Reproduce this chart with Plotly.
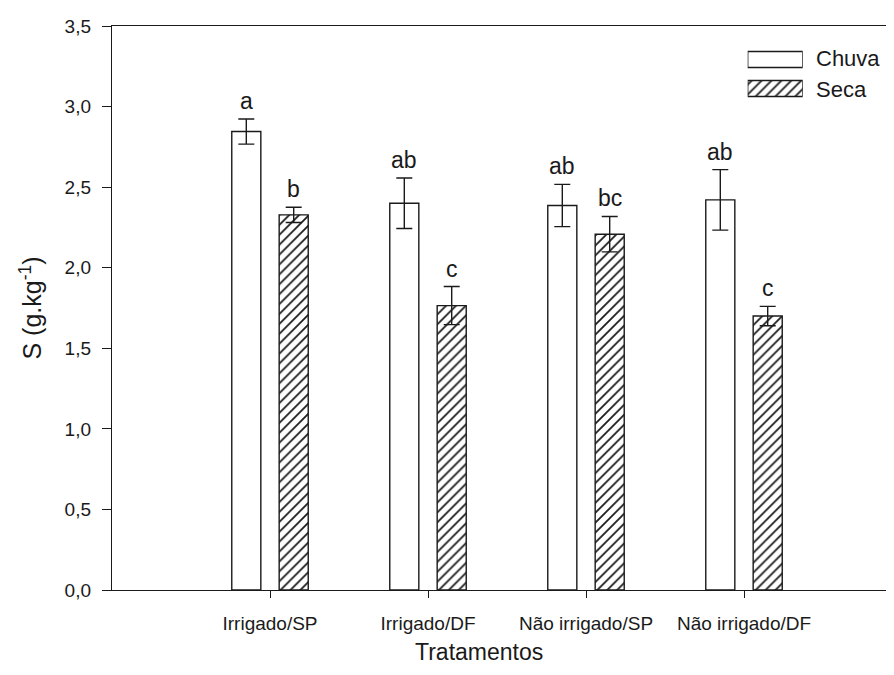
import plotly.graph_objects as go

categories = ["Irrigado/SP", "Irrigado/DF", "Não irrigado/SP", "Não irrigado/DF"]
chuva = [2.845, 2.40, 2.386, 2.421]
chuva_err = [0.078, 0.157, 0.131, 0.188]
seca = [2.328, 1.765, 2.208, 1.70]
seca_err = [0.047, 0.118, 0.11, 0.06]
chuva_letters = ["a", "ab", "ab", "ab"]
seca_letters = ["b", "c", "bc", "c"]
series_names = ["Chuva", "Seca"]

INK = "#1a1a1a"
FONT = "Liberation Sans, Arial, sans-serif"
# page offset of 8px (body margin) compensated
OFF = 8
W, H = 878, 659
L, R, T = 104, 0, 18
PH = 564
B = H - T - PH
PW = W - L - R

def px_x(p):
    return (p - OFF - L) / PW
def px_y(p):
    return (OFF + T + PH - p) / PH

hatch = dict(shape="/", fgcolor=INK, bgcolor="white", size=7, solidity=0.25, fillmode="replace")

fig = go.Figure()
fig.add_trace(go.Bar(
    x=categories, y=chuva, name=series_names[0],
    marker=dict(color="white", line=dict(color=INK, width=1.4)),
    error_y=dict(type="data", array=chuva_err, color=INK, thickness=1.4, width=8),
    showlegend=False,
))
fig.add_trace(go.Bar(
    x=categories, y=seca, name=series_names[1],
    marker=dict(color="white", pattern=hatch, line=dict(color=INK, width=1.4)),
    error_y=dict(type="data", array=seca_err, color=INK, thickness=1.4, width=8),
    showlegend=False,
))

# letters of significance
off = 0.15
for i in range(len(categories)):
    fig.add_annotation(x=i - off, y=chuva[i] + chuva_err[i], text=chuva_letters[i],
                       showarrow=False, yanchor="bottom", yshift=3,
                       font=dict(size=23, color=INK, family=FONT))
    fig.add_annotation(x=i + off, y=seca[i] + seca_err[i], text=seca_letters[i],
                       showarrow=False, yanchor="bottom", yshift=3,
                       font=dict(size=23, color=INK, family=FONT))

# legend swatches on an inset axis
fig.add_trace(go.Bar(
    x=[1], y=[1], base=[0], orientation="h", width=0.55,
    marker=dict(color="white", line=dict(color=INK, width=1.4)),
    xaxis="x2", yaxis="y2", showlegend=False, hoverinfo="skip",
))
fig.add_trace(go.Bar(
    x=[1], y=[0], base=[0], orientation="h", width=0.55,
    marker=dict(color="white", pattern=hatch, line=dict(color=INK, width=1.4)),
    xaxis="x2", yaxis="y2", showlegend=False, hoverinfo="skip",
))
fig.add_annotation(xref="paper", yref="paper", x=px_x(814), y=px_y(58.7), text=series_names[0],
                   showarrow=False, xanchor="left", yanchor="middle",
                   font=dict(size=22, color=INK, family=FONT))
fig.add_annotation(xref="paper", yref="paper", x=px_x(814), y=px_y(89.2), text=series_names[1],
                   showarrow=False, xanchor="left", yanchor="middle",
                   font=dict(size=22, color=INK, family=FONT))

# x axis title
fig.add_annotation(xref="paper", yref="paper", x=px_x(479), y=px_y(652), text="Tratamentos",
                   showarrow=False, xanchor="center", yanchor="middle",
                   font=dict(size=23, color=INK, family=FONT))

fig.update_layout(
    width=W, height=H,
    margin=dict(l=L, r=R, t=T, b=B, autoexpand=False),
    paper_bgcolor="white", plot_bgcolor="white",
    barmode="group", bargap=0.4, bargroupgap=0.387,
    separators=",.",
    font=dict(family=FONT, color=INK),
    xaxis=dict(
        type="category", range=[-1, -1 + PW / 158],
        showline=True, linecolor=INK, linewidth=1.4, mirror=True,
        ticks="outside", ticklen=7, tickcolor=INK, tickwidth=1.4,
        ticklabelstandoff=9,
        showgrid=False, zeroline=False,
        tickfont=dict(size=19, color=INK, family=FONT),
    ),
    yaxis=dict(
        range=[0, 3.5], dtick=0.5, tickformat=".1f",
        showline=True, linecolor=INK, linewidth=1.4,
        ticks="outside", ticklen=9, tickcolor=INK, tickwidth=1.4,
        ticklabelstandoff=7,
        showgrid=False, zeroline=False,
        tickfont=dict(size=19, color=INK, family=FONT),
        title=dict(text="S (g.kg<sup>-1</sup>)", font=dict(size=25, color=INK, family=FONT), standoff=15),
    ),
    xaxis2=dict(domain=[px_x(747.7), px_x(802.7)], range=[0, 1], visible=False,
                anchor="y2", fixedrange=True),
    yaxis2=dict(domain=[px_y(103), px_y(45)], range=[-0.5, 1.5], visible=False,
                anchor="x2", fixedrange=True),
)

fig.write_html("out.html")
